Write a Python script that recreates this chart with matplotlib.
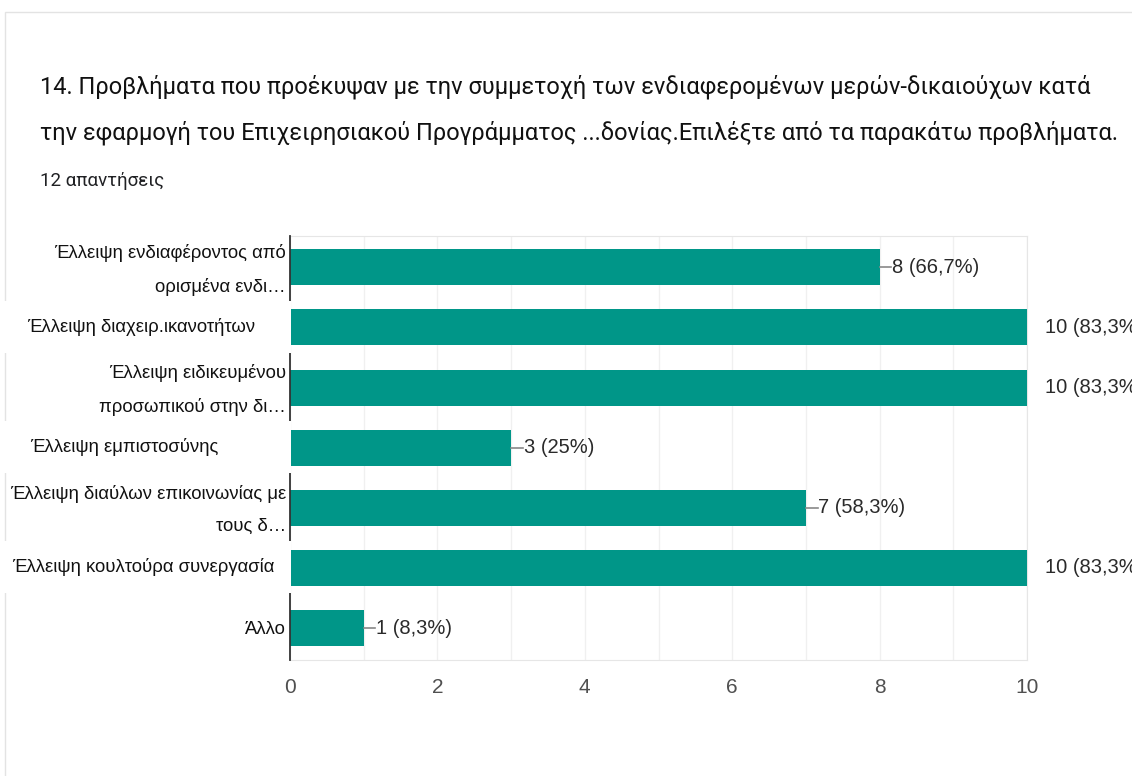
import matplotlib
matplotlib.use("Agg")
import matplotlib.pyplot as plt
from matplotlib.patches import Rectangle

# data
labels = [
    "Έλλειψη ενδιαφέροντος από\nορισμένα ενδι…",
    "Έλλειψη διαχειρ.ικανοτήτων",
    "Έλλειψη ειδικευμένου\nπροσωπικού στην δι…",
    "Έλλειψη εμπιστοσύνης",
    "Έλλειψη διαύλων επικοινωνίας με\nτους δ…",
    "Έλλειψη κουλτούρα συνεργασία",
    "Άλλο",
]
counts = [8, 10, 10, 3, 7, 10, 1]
percents = ["66,7%", "83,3%", "83,3%", "25%", "58,3%", "83,3%", "8,3%"]
ticks = [0, 2, 4, 6, 8, 10]
title = ("14. Προβλήματα που προέκυψαν με την συμμετοχή των ενδιαφερομένων μερών-δικαιούχων κατά\n"
         "την εφαρμογή του Επιχειρησιακού Προγράμματος ...δονίας.Επιλέξτε από τα παρακάτω προβλήματα.")
subtitle = "12 απαντήσεις"

# layout: labels pasted in as left-aligned boxes (x in px) or None for normal right-aligned
pasted_x = [None, 27, None, 30, None, 12, None]

W, H = 1132, 776
def fx(px):
    return px / W
def fy(py):
    return 1 - py / H

fig = plt.figure(figsize=(W / 100, H / 100), dpi=100)
fig.patches.append(Rectangle((fx(5), fy(H + 20)), 2, fy(12) - fy(H + 20),
                             transform=fig.transFigure, facecolor="none",
                             edgecolor="#e3e3e3", lw=1, zorder=-1))

ax = fig.add_axes([fx(290), fy(660), fx(1027) - fx(290), fy(236) - fy(660)])
bar_color = "#009688"
y = list(range(len(labels)))
ax.barh(y, counts, height=0.6, color=bar_color, zorder=3)
ax.set_xlim(0, 10)
ax.set_ylim(6.53, -0.52)
ax.set_xticks(ticks)
ax.set_xticks(range(11), minor=True)
ax.set_xticklabels([str(t) for t in ticks], fontsize=15, color="#505050",
                   family="Liberation Sans")
ax.tick_params(axis="x", length=0, pad=13, which="both")
ax.set_yticks([])
ax.grid(axis="x", which="both", color="#f0f0f0", lw=1, zorder=0)
for s in ["top", "right", "bottom"]:
    ax.spines[s].set_color("#e6e6e6")
ax.spines["left"].set_color("#333333")
ax.spines["left"].set_linewidth(1.3)
ax.spines["left"].set_zorder(4)

# value labels
for i, (c, p) in enumerate(zip(counts, percents)):
    txt = f"{c} ({p})"
    if c >= 10:
        ax.text(10.24, i, txt, va="center", ha="left", fontsize=14.5,
                color="#2a2a2a", clip_on=False, family="Liberation Sans")
    else:
        ax.plot([c, c + 0.16], [i, i], color="#888888", lw=1.2, zorder=4)
        ax.text(c + 0.17, i, txt, va="center", ha="left", fontsize=14.5,
                color="#2a2a2a", family="Liberation Sans")

# category labels
for i, lab in enumerate(labels):
    ycen = 267 + 60 * i
    if pasted_x[i] is None:
        fig.text(fx(286), fy(ycen + 3), lab, ha="right", va="center", fontsize=13.3,
                 color="#111111", linespacing=2.1, family="Liberation Sans")
    else:
        fig.patches.append(Rectangle((0, fy(ycen + 26)), fx(291), fy(ycen - 26) - fy(ycen + 26),
                                     transform=fig.transFigure, facecolor="white",
                                     edgecolor="none", zorder=5))
        fig.text(fx(pasted_x[i]), fy(ycen), lab, ha="left", va="center", fontsize=13.3,
                 color="#111111", family="Liberation Sans", zorder=6)

fig.text(fx(40), fy(110), title, ha="left", va="center", fontsize=17,
         color="#111111", linespacing=2.15, family="Roboto")
fig.text(fx(40), fy(181), subtitle, ha="left", va="center", fontsize=13.5,
         color="#202124", family="Roboto")

fig.savefig("out.png", dpi=100)
